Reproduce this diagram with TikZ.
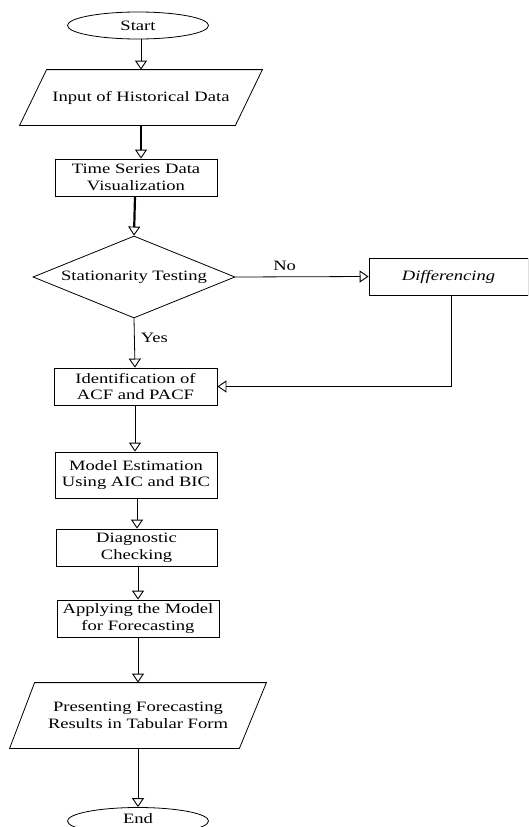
\documentclass[tikz,border=0pt]{standalone}
\usepackage{fontspec}
\setmainfont[FakeStretch=1.3]{Liberation Serif}
\usetikzlibrary{shapes.geometric,arrows.meta}
\begin{document}
\begin{tikzpicture}[x=1pt,y=-1pt,
  font=\fontsize{14.3}{16.8}\selectfont,
  line width=0.8pt,
  proc/.style={draw, rectangle, align=center, inner sep=0pt},
  term/.style={draw, ellipse, minimum width=141pt, minimum height=27pt, inner sep=0pt},
  io/.style={rectangle, draw=none, align=center, inner sep=0pt},
  dec/.style={draw, diamond, minimum width=202pt, minimum height=82pt, aspect=2.46, inner sep=1pt},
  arr/.style={-{Triangle[open,length=9pt,width=12pt,line width=0.9pt]}, line width=0.8pt},
  tarr/.style={arr, line width=2.2pt},
  lbl/.style={inner sep=0pt}
]
\useasboundingbox (0,0) rectangle (528,827);
\clip (0,0) rectangle (528,827);

% nodes
\node[term] (start) at (138,25.5) {Start};
\node[io, minimum width=242pt, minimum height=55pt] (input) at (141,97.5) {Input of Historical Data};
\node[proc, minimum width=162pt, minimum height=37pt] (viz) at (136,177.5) {Time Series Data\\Visualization};
\node[dec] (stat) at (134,277) {Stationarity Testing};
\node[proc, minimum width=159pt, minimum height=37pt] (diff) at (448.5,276.5) {\itshape Differencing};
\node[proc, minimum width=163pt, minimum height=37pt] (acf) at (135.5,386.5) {Identification of\\ACF and PACF};
\node[proc, minimum width=162pt, minimum height=46pt] (model) at (136,475) {Model Estimation\\Using AIC and BIC};
\node[proc, minimum width=161pt, minimum height=37pt] (diag) at (136.5,547.5) {Diagnostic\\Checking};
\node[proc, minimum width=162pt, minimum height=37pt] (apply) at (138,618.5) {Applying the Model\\for Forecasting};
\node[io, minimum width=256pt, minimum height=65pt] (pres) at (138,715.5) {Presenting Forecasting\\Results in Tabular Form};
\node[term] (end) at (138,821) {\raisebox{4.5pt}{End}};

% parallelograms
\draw ([xshift=27pt]input.north west) -- (input.north east) -- ([xshift=-27pt]input.south east) -- (input.south west) -- cycle;
\draw ([xshift=25pt]pres.north west) -- (pres.north east) -- ([xshift=-27pt]pres.south east) -- (pres.south west) -- cycle;

% connectors
\draw[arr] ([xshift=3pt]start.south) -- (input.north);
\draw[tarr] (input.south) -- ([xshift=5pt]viz.north);
\draw[tarr] ([xshift=-1pt]viz.south) -- (stat.north);
\draw[arr] (stat.east) -- node[lbl, above=6pt, pos=0.37] (no) {No} (diff.west);
\draw[arr] (stat.south) -- node[lbl, right=6pt, pos=0.4] (yes) {Yes} ([xshift=-0.5pt]acf.north);
\draw[arr] ([xshift=3pt]diff.south) |- (acf.east);
\draw[arr] ([xshift=-0.5pt]acf.south) -- ([xshift=-1pt]model.north);
\draw[arr] ([xshift=1pt]model.south) -- ([xshift=0.5pt]diag.north);
\draw[arr] ([xshift=1.5pt]diag.south) -- (apply.north);
\draw[arr] (apply.south) -- (pres.north);
\draw[arr] (pres.south) -- (end.north);
\end{tikzpicture}
\end{document}
